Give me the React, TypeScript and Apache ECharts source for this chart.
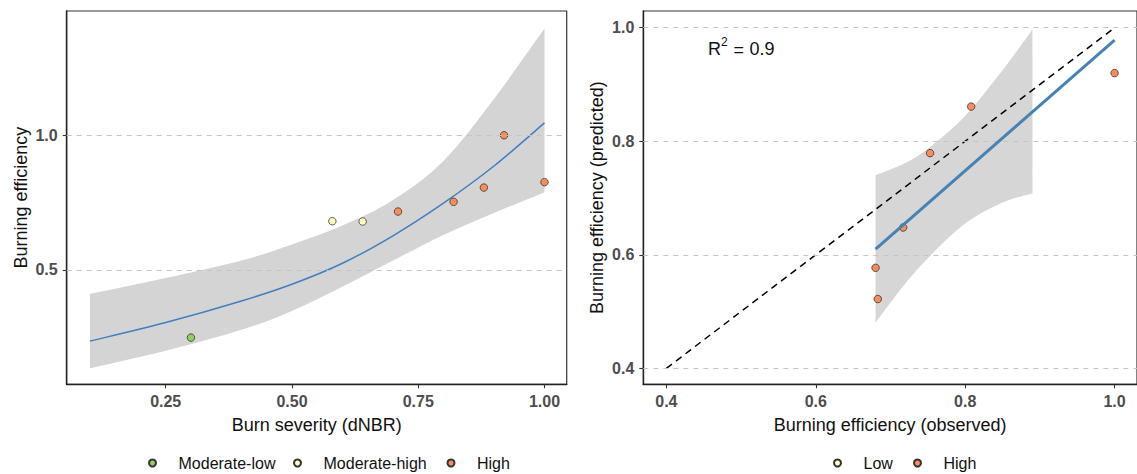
import React, { useEffect, useRef } from "react";
import * as echarts from "echarts";

const FONT = '"Liberation Sans", Arial, Helvetica, sans-serif';

// ---------- tick labels ----------
const severityTicks = [0.25, 0.5, 0.75, 1.0];
const leftYTicks = [0.5, 1.0];
const rightXTicks = [0.4, 0.6, 0.8, 1.0];
const rightYTicks = [0.4, 0.6, 0.8, 1.0];

// ---------- categories ----------
const leftClasses = ["Moderate-low", "Moderate-high", "High"];
const leftColors = ["#91cf60", "#ffffbf", "#fc8d59"];
const rightClasses = ["Low", "High"];

// ---------- left panel: observations ----------
const modLowX = [0.30];
const modLowY = [0.249];
const modHighX = [0.58, 0.64];
const modHighY = [0.681, 0.680];
const highX = [0.71, 0.82, 0.88, 0.92, 1.0];
const highY = [0.717, 0.753, 0.806, 1.0, 0.826];

// ---------- left panel: fitted curve and confidence band ----------
const fitX = [0.10, 0.25, 0.40, 0.50, 0.60, 0.70, 0.80, 0.90, 1.00];
const fitY = [0.236, 0.305, 0.385, 0.447, 0.525, 0.627, 0.748, 0.886, 1.046];
const fitLower = [0.135, 0.200, 0.278, 0.348, 0.438, 0.535, 0.630, 0.712, 0.788];
const fitUpper = [0.411, 0.470, 0.535, 0.595, 0.665, 0.760, 0.905, 1.135, 1.396];

// ---------- right panel: observed vs predicted ----------
const obsX = [0.680, 0.683, 0.717, 0.753, 0.808, 1.0];
const predY = [0.577, 0.522, 0.648, 0.779, 0.861, 0.920];
const lowObsX: number[] = [];
const lowPredY: number[] = [];

const regX = [0.68, 1.0];
const regY = [0.610, 0.978];
const bandX = [0.68, 0.719, 0.753, 0.80, 0.85, 0.89];
const bandLower = [0.480, 0.548, 0.598, 0.655, 0.692, 0.708];
const bandUpper = [0.740, 0.761, 0.790, 0.845, 0.925, 0.997];
const identityX = [0.4, 1.0];
const identityY = [0.4, 1.0];

const rSquared = "0.9";

const zip = (a: number[], b: number[]) => a.map((v, i) => [v, b[i]]);

function gridLineSeries(values: number[], axis: number) {
  return {
    type: "line",
    data: [],
    xAxisIndex: axis,
    yAxisIndex: axis,
    z: 1,
    silent: true,
    markLine: {
      silent: true,
      symbol: ["none", "none"],
      animation: false,
      label: { show: false },
      lineStyle: { type: [5, 5], color: "#c4c4c4", width: 1.2 },
      emphasis: { disabled: true },
      data: values.map((v) => ({ yAxis: v })),
    },
  };
}

// Catmull-Rom spline through pixel points, as cubic bezier commands
function splineCmds(pts: number[][]) {
  let d = "";
  for (let i = 0; i < pts.length - 1; i++) {
    const p0 = pts[i - 1] || pts[i];
    const p1 = pts[i];
    const p2 = pts[i + 1];
    const p3 = pts[i + 2] || p2;
    const c1x = p1[0] + (p2[0] - p0[0]) / 6;
    const c1y = p1[1] + (p2[1] - p0[1]) / 6;
    const c2x = p2[0] - (p3[0] - p1[0]) / 6;
    const c2y = p2[1] - (p3[1] - p1[1]) / 6;
    d += ` C ${c1x} ${c1y} ${c2x} ${c2y} ${p2[0]} ${p2[1]}`;
  }
  return d;
}

function bandSeries(xs: number[], lo: number[], hi: number[], axis: number, color: string, opacity: number) {
  return {
    type: "custom",
    xAxisIndex: axis,
    yAxisIndex: axis,
    data: xs.map((x, i) => [x, lo[i], hi[i]]),
    encode: { x: 0, y: [1, 2] },
    z: 2,
    silent: true,
    renderItem: (params: any, api: any) => {
      if (params.dataIndex !== 0) return null;
      const up = xs.map((x, i) => api.coord([x, hi[i]]));
      const dn = xs.map((x, i) => api.coord([x, lo[i]])).reverse();
      const d =
        `M ${up[0][0]} ${up[0][1]}` +
        splineCmds(up) +
        ` L ${dn[0][0]} ${dn[0][1]}` +
        splineCmds(dn) +
        " Z";
      return {
        type: "path",
        shape: { pathData: d },
        style: { fill: color, opacity, stroke: "none" },
      };
    },
  };
}

function curveSeries(xs: number[], ys: number[], axis: number, color: string, width: number, z: number) {
  return {
    type: "custom",
    xAxisIndex: axis,
    yAxisIndex: axis,
    data: xs.map((x, i) => [x, ys[i]]),
    encode: { x: 0, y: 1 },
    z,
    silent: true,
    renderItem: (params: any, api: any) => {
      if (params.dataIndex !== 0) return null;
      const pts = xs.map((x, i) => api.coord([x, ys[i]]));
      const d = `M ${pts[0][0]} ${pts[0][1]}` + splineCmds(pts);
      return {
        type: "path",
        shape: { pathData: d },
        style: { fill: "none", stroke: color, lineWidth: width },
      };
    },
  };
}

const axisLabelBase = {
  fontFamily: FONT,
  fontSize: 16,
  fontWeight: "bold",
  color: "#4d4d4d",
};
const axisNameBase = { fontFamily: FONT, fontSize: 18, color: "#111" };
const axisLineBase = { show: true, lineStyle: { color: "#222", width: 1.4 } };
const axisTickBase = { show: true, length: 4, lineStyle: { color: "#333", width: 1.1 } };

function scatter(name: string, xs: number[], ys: number[], color: string, axis: number, z: number) {
  return {
    name,
    type: "scatter",
    data: zip(xs, ys),
    xAxisIndex: axis,
    yAxisIndex: axis,
    symbol: "circle",
    symbolSize: 7.5,
    itemStyle: { color, borderColor: "#333", borderWidth: 0.8, opacity: 1 },
    z,
  };
}

function legendItem(name: string, left: number) {
  return {
    data: [name],
    left, top: 455, orient: "horizontal",
    itemWidth: 42, itemHeight: 7, padding: 0,
    icon: "circle", selectedMode: false,
    textStyle: { fontFamily: FONT, fontSize: 16, color: "#111" },
  };
}

export default function App() {
  const ref = useRef<HTMLDivElement>(null);

  useEffect(() => {
    if (!ref.current) return;
    const chart = echarts.init(ref.current, null, { renderer: "svg" });

    const option: any = {
      animation: false,
      backgroundColor: "#ffffff",
      textStyle: { fontFamily: FONT },
      grid: [
        {
          left: 66.7, top: 11, width: 500, height: 373.3,
          show: true, borderColor: "#333", borderWidth: 1.2, backgroundColor: "transparent",
        },
        {
          left: 643.3, top: 11, width: 501.2, height: 373.3,
          show: true, borderColor: "#333", borderWidth: 1.2, backgroundColor: "transparent",
        },
      ],
      xAxis: [
        {
          type: "value", gridIndex: 0, min: 0.054, max: 1.044,
          name: "Burn severity (dNBR)", nameLocation: "middle", nameGap: 32,
          nameTextStyle: axisNameBase,
          axisLine: axisLineBase,
          axisTick: { ...axisTickBase, customValues: severityTicks },
          axisLabel: { ...axisLabelBase, margin: 9, customValues: severityTicks, formatter: (v: number) => v.toFixed(2) },
          splitLine: { show: false },
        },
        {
          type: "value", gridIndex: 1, min: 0.3691, max: 1.030,
          name: "Burning efficiency (observed)", nameLocation: "middle", nameGap: 32,
          nameTextStyle: axisNameBase,
          axisLine: axisLineBase,
          axisTick: { ...axisTickBase, customValues: rightXTicks },
          axisLabel: { ...axisLabelBase, margin: 9, customValues: rightXTicks, formatter: (v: number) => v.toFixed(1) },
          splitLine: { show: false },
        },
      ],
      yAxis: [
        {
          type: "value", gridIndex: 0, min: 0.0757, max: 1.4614,
          name: "Burning efficiency", nameLocation: "middle", nameGap: 37,
          nameTextStyle: axisNameBase,
          axisLine: axisLineBase,
          axisTick: { ...axisTickBase, customValues: leftYTicks },
          axisLabel: { ...axisLabelBase, margin: 9, customValues: leftYTicks, formatter: (v: number) => v.toFixed(1) },
          splitLine: { show: false },
        },
        {
          type: "value", gridIndex: 1, min: 0.3718, max: 1.0294,
          name: "Burning efficiency (predicted)", nameLocation: "middle", nameGap: 37,
          nameTextStyle: axisNameBase,
          axisLine: axisLineBase,
          axisTick: { ...axisTickBase, customValues: rightYTicks },
          axisLabel: { ...axisLabelBase, margin: 9, customValues: rightYTicks, formatter: (v: number) => v.toFixed(1) },
          splitLine: { show: false },
        },
      ],
      legend: [
        legendItem(leftClasses[0], 148),
        legendItem(leftClasses[1], 293),
        legendItem(leftClasses[2], 446.5),
        legendItem(rightClasses[0], 833),
        legendItem(rightClasses[1], 913),
      ],
      graphic: [
        { type: "text", x: 708, y: 49, z: 10, style: { text: "R", fontFamily: FONT, fontSize: 18, fill: "#111", verticalAlign: "middle", align: "left" } },
        { type: "text", x: 721, y: 41.5, z: 10, style: { text: "2", fontFamily: FONT, fontSize: 12, fill: "#111", verticalAlign: "middle", align: "left" } },
        { type: "text", x: 733.5, y: 50, z: 10, style: { text: "=", fontFamily: FONT, fontSize: 18, fill: "#111", verticalAlign: "middle", align: "left" } },
        { type: "text", x: 749.5, y: 49, z: 10, style: { text: rSquared, fontFamily: FONT, fontSize: 18, fill: "#111", verticalAlign: "middle", align: "left" } },
      ],
      series: [
        // ----- left panel -----
        gridLineSeries(leftYTicks, 0),
        bandSeries(fitX, fitLower, fitUpper, 0, "#d4d4d4", 1),
        curveSeries(fitX, fitY, 0, "#3f7fc1", 1.5, 3),
        scatter(leftClasses[0], modLowX, modLowY, leftColors[0], 0, 4),
        scatter(leftClasses[1], modHighX, modHighY, leftColors[1], 0, 4),
        scatter(leftClasses[2], highX, highY, leftColors[2], 0, 4),
        // ----- right panel -----
        gridLineSeries(rightYTicks, 1),
        bandSeries(bandX, bandLower, bandUpper, 1, "#999999", 0.4),
        scatter(rightClasses[1], obsX, predY, leftColors[2], 1, 3),
        scatter(rightClasses[0], lowObsX, lowPredY, leftColors[1], 1, 3),
        {
          type: "line",
          data: zip(identityX, identityY),
          xAxisIndex: 1, yAxisIndex: 1,
          showSymbol: false, symbol: "none",
          lineStyle: { color: "#000", width: 1.5, type: [7, 5] },
          z: 4, silent: true,
        },
        {
          type: "line",
          data: zip(regX, regY),
          xAxisIndex: 1, yAxisIndex: 1,
          showSymbol: false, symbol: "none",
          lineStyle: { color: "#4682b4", width: 3 },
          z: 5, silent: true,
        },
      ],
    };

    chart.setOption(option);
    return () => chart.dispose();
  }, []);

  return (
    <div
      ref={ref}
      style={{ position: "fixed", left: 0, top: 0, width: 1137, height: 474, background: "#fff" }}
    />
  );
}
